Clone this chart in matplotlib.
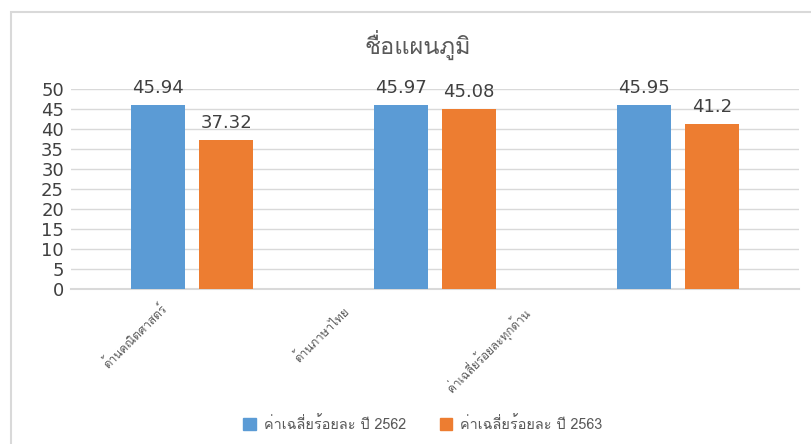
import matplotlib
matplotlib.use("Agg")
import matplotlib.pyplot as plt
from matplotlib import font_manager
from matplotlib.ft2font import FT2Font
from matplotlib.patches import Rectangle
import numpy as np

# ---- data ----
categories = ["ด้านคณิตศาสตร์", "ด้านภาษาไทย", "ค่าเฉลี่ยร้อยละทุกด้าน"]
series_names = ["ค่าเฉลี่ยร้อยละ ปี 2562", "ค่าเฉลี่ยร้อยละ ปี 2563"]
values_2562 = [45.94, 45.97, 45.95]
values_2563 = [37.32, 45.08, 41.2]
value_labels_2562 = ["45.94", "45.97", "45.95"]
value_labels_2563 = ["37.32", "45.08", "41.2"]
yticks = [0, 5, 10, 15, 20, 25, 30, 35, 40, 45, 50]
title = "ชื่อแผนภูมิ"


def find_thai_family():
    found = []
    for f in font_manager.fontManager.ttflist:
        try:
            cmap = FT2Font(f.fname).get_charmap()
        except Exception:
            continue
        if ord("ช") in cmap and ord("ู") in cmap:
            found.append(f.name)
    return found


thai = find_thai_family()
families = (thai[:1] if thai else []) + ["DejaVu Sans"]
plt.rcParams["font.family"] = families

BLUE = "#5b9bd5"
ORANGE = "#ed7d31"
TXT = "#404040"

fig = plt.figure(figsize=(8.12, 4.44), dpi=100)
W, H = 812, 444
ax = fig.add_axes([71 / W, 1 - 289 / H, (799 - 71) / W, 200 / H])

x = np.arange(len(categories))
bw = 0.223
off = 0.14
b1 = ax.bar(x - off, values_2562, bw, color=BLUE, label=series_names[0], zorder=3)
b2 = ax.bar(x + off, values_2563, bw, color=ORANGE, label=series_names[1], zorder=3)

for bars, labs in ((b1, value_labels_2562), (b2, value_labels_2563)):
    for b, t in zip(bars, labs):
        ax.annotate(t, (b.get_x() + b.get_width() / 2, b.get_height()),
                    xytext=(0, 8), textcoords="offset pixels",
                    ha="center", va="bottom", fontsize=13, color=TXT,
                    family="DejaVu Sans")

ax.set_xlim(-0.5, len(categories) - 0.5)
ax.set_ylim(0, 50)
ax.set_yticks(yticks)
ax.set_yticklabels([str(v) for v in yticks], fontsize=13, color=TXT, family="DejaVu Sans")
ax.tick_params(axis="y", length=0, pad=5)
ax.grid(axis="y", color="#d9d9d9", linewidth=1, zorder=0)
ax.set_xticks([])
for s in ["top", "right", "left"]:
    ax.spines[s].set_visible(False)
ax.spines["bottom"].set_color("#d9d9d9")
ax.spines["bottom"].set_linewidth(1.5)

# rotated category labels (Excel-style placement)
shifts = [(-28, -17), (-89, -20), (-150, -22)]
for i, (c, (dx, dy)) in enumerate(zip(categories, shifts)):
    ax.annotate(c, (i, 0), xytext=(dx, dy), textcoords="offset pixels",
                rotation=45, rotation_mode="anchor", ha="right", va="center",
                fontsize=8.5, color="#595959")

fig.text(418 / W, 1 - 45 / H, title, ha="center", va="center", fontsize=17, color="#595959")

handles = [Rectangle((0, 0), 1, 1, color=BLUE), Rectangle((0, 0), 1, 1, color=ORANGE)]
fig.legend(handles, series_names, loc="center", bbox_to_anchor=(423 / W, 1 - 424 / H),
           ncol=2, frameon=False, fontsize=10.4, labelcolor="#595959",
           handlelength=0.85, handleheight=0.85, columnspacing=2.3, handletextpad=0.6)

fig.patches.append(Rectangle((11 / W, -0.1), 1.2, 1 - 12 / H + 0.1, transform=fig.transFigure,
                             fill=False, edgecolor="#d9d9d9", linewidth=1.5))

fig.savefig("out.png", dpi=100)
